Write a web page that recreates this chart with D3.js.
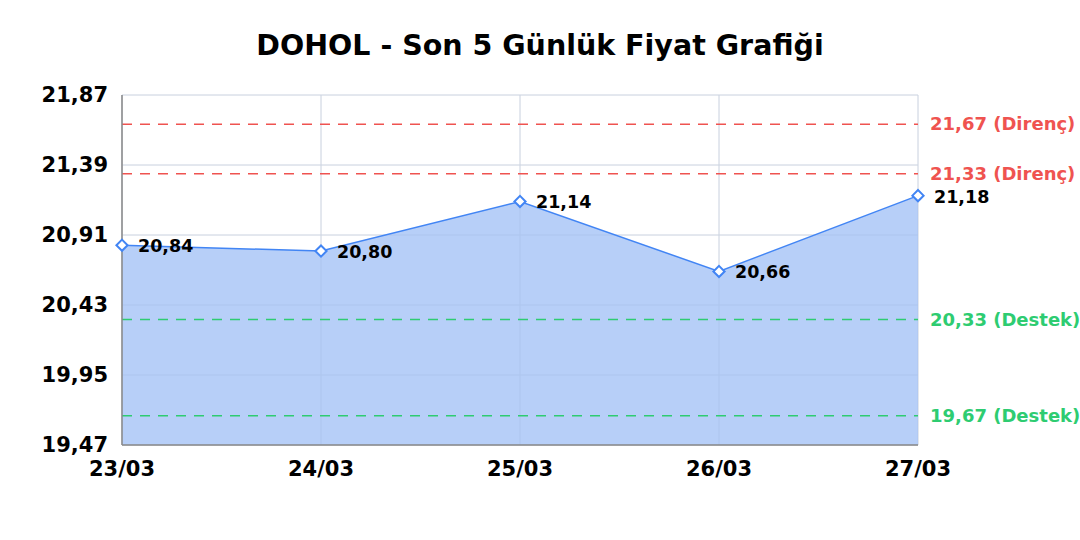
<!DOCTYPE html>
<html>
<head>
<meta charset="utf-8">
<script src="https://cdn.jsdelivr.net/npm/d3@7"></script>
<style>
  body { margin: 0; background: #fff; }
  svg { font-family: "DejaVu Sans", sans-serif; }
</style>
</head>
<body>
<svg id="chart" width="1080" height="540"></svg>
<script>
const dates = ['23/03', '24/03', '25/03', '26/03', '27/03'];
const prices = [20.84, 20.80, 21.14, 20.66, 21.18];
const yTicks = [19.47, 19.95, 20.43, 20.91, 21.39, 21.87];
const resistance = [21.67, 21.33];
const support = [20.33, 19.67];

const fmt = v => v.toFixed(2).replace('.', ',');

const svg = d3.select('#chart');
const margin = { top: 95, right: 162, bottom: 95, left: 122 };
const W = 1080, H = 540;

const x = d3.scalePoint().domain(dates).range([margin.left, W - margin.right]);
const y = d3.scaleLinear().domain([19.47, 21.87]).range([H - margin.bottom, margin.top]);

// Title
svg.append('text')
    .attr('x', 540).attr('y', 55)
    .attr('text-anchor', 'middle')
    .attr('font-size', 28.5).attr('font-weight', 'bold')
    .text('DOHOL - Son 5 Günlük Fiyat Grafiği');

// Grid (under the area)
function drawGrid(g, color) {
    g.selectAll('line.h').data(yTicks).join('line').attr('class', 'h')
        .attr('x1', margin.left).attr('x2', W - margin.right)
        .attr('y1', d => y(d)).attr('y2', d => y(d))
        .attr('stroke', color).attr('stroke-width', 1);
    g.selectAll('line.v').data(dates).join('line').attr('class', 'v')
        .attr('x1', d => x(d)).attr('x2', d => x(d))
        .attr('y1', margin.top).attr('y2', H - margin.bottom)
        .attr('stroke', color).attr('stroke-width', 1);
}
drawGrid(svg.append('g'), '#e6e6e6');

// Area + line
const data = dates.map((d, i) => ({ d, v: prices[i] }));
svg.append('path')
    .datum(data)
    .attr('fill', '#b7cff8')
    .attr('d', d3.area().x(p => x(p.d)).y0(y(19.47)).y1(p => y(p.v)));

// grid faintly visible through the fill
drawGrid(svg.append('g').attr('opacity', 0.35), '#9fb6dc');

svg.append('path')
    .datum(data)
    .attr('fill', 'none').attr('stroke', '#4285f4').attr('stroke-width', 1.5)
    .attr('d', d3.line().x(p => x(p.d)).y(p => y(p.v)));

// Reference lines
const refs = [
    ...resistance.map(v => ({ v, color: '#ef5350', label: `${fmt(v)} (Direnç)` })),
    ...support.map(v => ({ v, color: '#2ecc71', label: `${fmt(v)} (Destek)` })),
];
const refG = svg.append('g');
refG.selectAll('line').data(refs).join('line')
    .attr('x1', margin.left).attr('x2', W - margin.right)
    .attr('y1', d => y(d.v)).attr('y2', d => y(d.v))
    .attr('stroke', d => d.color).attr('stroke-width', 1.5)
    .attr('stroke-dasharray', '10,8');
refG.selectAll('text').data(refs).join('text')
    .attr('x', W - margin.right + 12).attr('y', d => y(d.v) + 6)
    .attr('fill', d => d.color)
    .attr('font-size', 18).attr('font-weight', 'bold')
    .text(d => d.label);

// Axes
svg.append('line')
    .attr('x1', margin.left).attr('x2', margin.left)
    .attr('y1', margin.top).attr('y2', H - margin.bottom)
    .attr('stroke', '#888').attr('stroke-width', 1.5);
svg.append('line')
    .attr('x1', margin.left).attr('x2', W - margin.right)
    .attr('y1', H - margin.bottom).attr('y2', H - margin.bottom)
    .attr('stroke', '#888').attr('stroke-width', 1.5);

svg.append('g').selectAll('text').data(yTicks).join('text')
    .attr('x', margin.left - 14).attr('y', d => y(d) + 7)
    .attr('text-anchor', 'end')
    .attr('font-size', 21).attr('font-weight', 'bold')
    .text(fmt);

svg.append('g').selectAll('text').data(dates).join('text')
    .attr('x', d => x(d)).attr('y', H - margin.bottom + 31)
    .attr('text-anchor', 'middle')
    .attr('font-size', 21).attr('font-weight', 'bold')
    .text(d => d);

// Markers + value labels
const pts = svg.append('g');
pts.selectAll('path').data(data).join('path')
    .attr('transform', p => `translate(${x(p.d)},${y(p.v)})`)
    .attr('d', d3.symbol().type(d3.symbolDiamond2).size(80))
    .attr('fill', '#fff').attr('stroke', '#4285f4').attr('stroke-width', 2);
pts.selectAll('text').data(data).join('text')
    .attr('x', p => x(p.d) + 16).attr('y', p => y(p.v) + 7)
    .attr('font-size', 17.5).attr('font-weight', 'bold')
    .text(p => fmt(p.v));
</script>
</body>
</html>
